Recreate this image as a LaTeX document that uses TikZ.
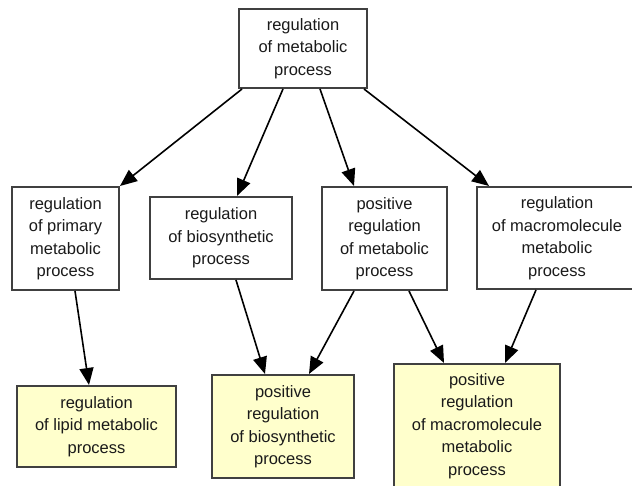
\documentclass[tikz,border=0pt]{standalone}
\usepackage{fontspec}
\setmainfont{Liberation Sans}
\usetikzlibrary{arrows.meta}
\definecolor{boxline}{HTML}{404040}
\definecolor{leaf}{HTML}{FFFFCC}
\definecolor{txt}{HTML}{1A1A1A}
\begin{document}
\begin{tikzpicture}[x=1pt,y=-1pt,
  gobox/.style={draw=boxline, line width=2pt, fill=white, align=center, inner sep=0pt,
    text=txt, font=\fontsize{16.5}{22.5}\selectfont},
  leafbox/.style={gobox, fill=leaf},
  isa/.style={line width=1.6pt, draw=black, -{Triangle[length=17pt,width=14pt]}}]
\useasboundingbox (0,0) rectangle (632,486);
\clip (0,0) rectangle (632,486);
\fill[white] (0,0) rectangle (632,486);
\node[gobox, minimum width=128, minimum height=79] (t) at (303,48.5) {regulation\\of metabolic\\process};
\node[gobox, minimum width=107, minimum height=103] (a) at (65.5,238.5) {regulation\\of primary\\metabolic\\process};
\node[gobox, minimum width=142, minimum height=82] (b) at (221,238) {regulation\\of biosynthetic\\process};
\node[gobox, minimum width=125, minimum height=103] (c) at (384.5,238.5) {positive\\regulation\\of metabolic\\process};
\node[gobox, minimum width=160, minimum height=102] (d) at (557,238) {regulation\\of macromolecule\\metabolic\\process};
\node[leafbox, minimum width=159, minimum height=81] (e) at (96.5,426.5) {regulation\\of lipid metabolic\\process};
\node[leafbox, minimum width=142, minimum height=103] (f) at (283,426.5) {positive\\regulation\\of biosynthetic\\process};
\node[leafbox, minimum width=166, minimum height=124] (g) at (477,426) {positive\\regulation\\of macromolecule\\metabolic\\process};
\draw[isa] ([xshift=4pt]t.south west) -- (a.north east);
\draw[isa] ([xshift=45pt]t.south west) -- ([xshift=88pt]b.north west);
\draw[isa] ([xshift=82pt]t.south west) -- ([xshift=33pt]c.north west);
\draw[isa] ([xshift=126pt]t.south west) -- ([xshift=13pt]d.north west);
\draw[isa] ([xshift=64pt]a.south west) -- ([xshift=73pt]e.north west);
\draw[isa] ([xshift=87pt]b.south west) -- ([xshift=54pt]f.north west);
\draw[isa] ([xshift=33pt]c.south west) -- ([xshift=98pt]f.north west);
\draw[isa] ([xshift=88pt]c.south west) -- ([xshift=51pt]g.north west);
\draw[isa] ([xshift=60pt]d.south west) -- ([xshift=112pt]g.north west);
\end{tikzpicture}
\end{document}
